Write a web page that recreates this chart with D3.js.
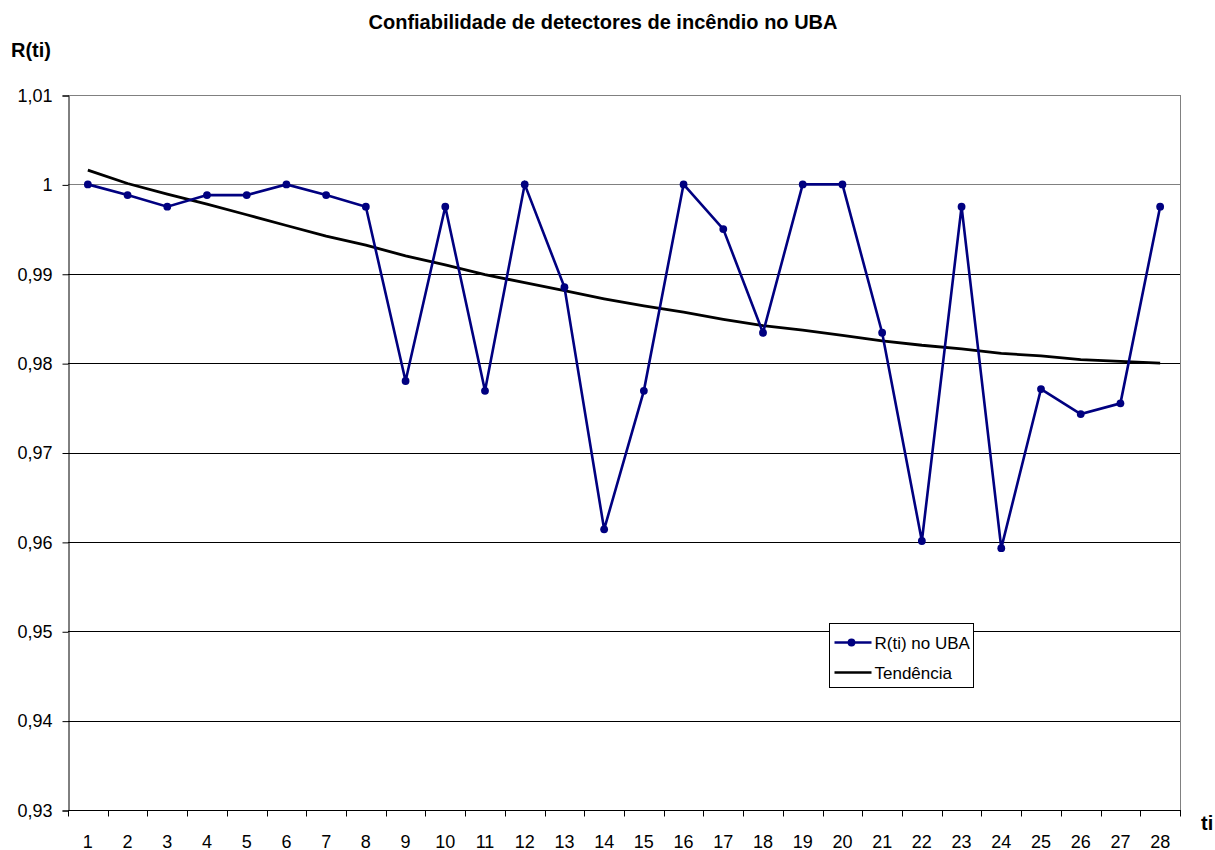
<!DOCTYPE html>
<html>
<head>
<meta charset="utf-8">
<script src="https://cdn.jsdelivr.net/npm/d3@7"></script>
<style>
  body { margin: 0; background: #fff; }
  text { font-family: Arial, "Liberation Sans", sans-serif; }
</style>
</head>
<body>
<svg width="1215" height="850"></svg>
<script>
// values
var ti = d3.range(1, 29);
var reliability = [1.0, 0.9988, 0.9975, 0.9988, 0.9988, 1.0, 0.9988, 0.9975, 0.978, 0.9975,
  0.9769, 1.0, 0.9885, 0.9614, 0.9769, 1.0, 0.995, 0.9834, 1.0, 1.0,
  0.9834, 0.9601, 0.9975, 0.9593, 0.9771, 0.9743, 0.9755, 0.9975];
var trend = [1.0016, 1.0001, 0.9989, 0.9978, 0.9966, 0.9954, 0.9942, 0.9932, 0.9920, 0.9910,
  0.9899, 0.9890, 0.9881, 0.9872, 0.9864, 0.9857, 0.9849, 0.9842, 0.9837, 0.9831,
  0.9825, 0.9820, 0.9816, 0.9811, 0.9808, 0.9804, 0.9802, 0.9800];
var yTicks = [0.93, 0.94, 0.95, 0.96, 0.97, 0.98, 0.99, 1, 1.01];
var seriesNames = ["R(ti) no UBA", "Tendência"];

var svg = d3.select("svg");
var plotLeft = 68, plotRight = 1180, plotTop = 95, plotBottom = 810;

var x = d3.scaleBand().domain(ti).range([plotLeft, plotRight]);
var y = d3.scaleLinear().domain([0.93, 1.01]).range([plotBottom, plotTop]);
var cx = function(d, i) { return x(ti[i]) + x.bandwidth() / 2; };
var fmt = function(v) { return String(+v.toFixed(2)).replace(".", ","); };

// grid
svg.append("g").selectAll("line")
  .data(yTicks)
  .enter().append("line")
  .attr("x1", plotLeft).attr("x2", plotRight)
  .attr("y1", function(d) { return Math.round(y(d)) + 0.5; })
  .attr("y2", function(d) { return Math.round(y(d)) + 0.5; })
  .attr("stroke", function(d) { return d >= 1 ? "#808080" : "#000"; })
  .attr("stroke-width", 1);

// right border
svg.append("line")
  .attr("x1", plotRight + 0.5).attr("x2", plotRight + 0.5)
  .attr("y1", plotTop).attr("y2", plotBottom)
  .attr("stroke", "#808080");

// y axis
var yAxis = svg.append("g")
  .attr("transform", "translate(" + (plotLeft + 0.5) + ",0.5)")
  .call(d3.axisLeft(y).tickValues(yTicks).tickFormat(fmt).tickSize(6).tickPadding(10));
yAxis.select(".domain").attr("stroke", "#000");
yAxis.selectAll("text").attr("font-size", 18).attr("fill", "#000")
  .style("font-family", "Arial, 'Liberation Sans', sans-serif");

// x axis, ticks at category boundaries
var xAxis = svg.append("g")
  .attr("transform", "translate(0," + (plotBottom + 0.5) + ")");
xAxis.append("line")
  .attr("x1", plotLeft).attr("x2", plotRight + 1)
  .attr("stroke", "#000");
xAxis.selectAll(".tk")
  .data(d3.range(0, 29))
  .enter().append("line")
  .attr("x1", function(d) { return Math.round(plotLeft + d * x.step()) + 0.5; })
  .attr("x2", function(d) { return Math.round(plotLeft + d * x.step()) + 0.5; })
  .attr("y1", 0).attr("y2", 6)
  .attr("stroke", "#000");
xAxis.selectAll(".lbl")
  .data(ti)
  .enter().append("text")
  .attr("x", function(d) { return x(d) + x.bandwidth() / 2; })
  .attr("y", 37)
  .attr("text-anchor", "middle")
  .attr("font-size", 18)
  .text(function(d) { return d; });

// trend line
svg.append("path")
  .datum(trend)
  .attr("fill", "none")
  .attr("stroke", "#000")
  .attr("stroke-width", 2.8)
  .attr("d", d3.line().x(cx).y(function(d) { return y(d); }));

// series
svg.append("path")
  .datum(reliability)
  .attr("fill", "none")
  .attr("stroke", "#000080")
  .attr("stroke-width", 2.6)
  .attr("d", d3.line().x(cx).y(function(d) { return y(d); }));

svg.append("g").selectAll("circle")
  .data(reliability)
  .enter().append("circle")
  .attr("cx", cx)
  .attr("cy", function(d) { return y(d); })
  .attr("r", 3.9)
  .attr("fill", "#000080");

// titles
svg.append("text")
  .attr("x", 603).attr("y", 29)
  .attr("text-anchor", "middle")
  .attr("font-size", 20).attr("font-weight", "bold")
  .text("Confiabilidade de detectores de incêndio no UBA");
svg.append("text")
  .attr("x", 11).attr("y", 57)
  .attr("font-size", 20).attr("font-weight", "bold")
  .text("R(ti)");
svg.append("text")
  .attr("x", 1201).attr("y", 830)
  .attr("font-size", 20).attr("font-weight", "bold")
  .text("ti");

// legend
var lg = svg.append("g").attr("transform", "translate(829.5,623.5)");
lg.append("rect")
  .attr("width", 144).attr("height", 64)
  .attr("fill", "#fff").attr("stroke", "#000");
var rows = lg.selectAll(".row")
  .data(seriesNames)
  .enter().append("g")
  .attr("transform", function(d, i) { return "translate(0," + (19 + i * 30) + ")"; });
rows.append("line")
  .attr("x1", 5).attr("x2", 42)
  .attr("stroke", function(d, i) { return i === 0 ? "#000080" : "#000"; })
  .attr("stroke-width", 2.6);
rows.filter(function(d, i) { return i === 0; })
  .append("circle")
  .attr("cx", 22).attr("r", 3.9).attr("fill", "#000080");
rows.append("text")
  .attr("x", 45).attr("y", 6)
  .attr("font-size", 17)
  .text(function(d) { return d; });
</script>
</body>
</html>
